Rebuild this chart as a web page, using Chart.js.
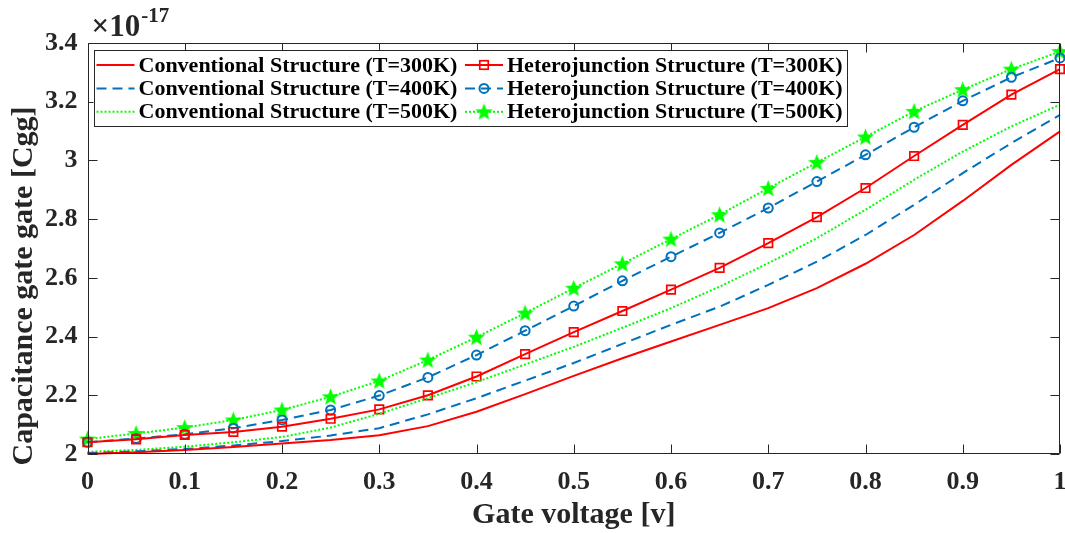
<!DOCTYPE html>
<html>
<head>
<meta charset="utf-8">
<script src="https://cdn.jsdelivr.net/npm/chart.js@4.4.1/dist/chart.umd.min.js"></script>
<style>
  html, body { margin: 0; padding: 0; background: #ffffff; overflow: hidden; }
  #wrap { width: 1065px; height: 533px; position: relative; }
  canvas { display: block; }
</style>
</head>
<body>
<div id="wrap"><canvas id="c" width="1065" height="533"></canvas></div>
<script>
// ---------------- data ----------------
const gateVoltage = [0, 0.05, 0.1, 0.15, 0.2, 0.25, 0.3, 0.35, 0.4, 0.45, 0.5, 0.55, 0.6, 0.65, 0.7, 0.75, 0.8, 0.85, 0.9, 0.95, 1];

const conv300 = [2.000, 2.006, 2.014, 2.024, 2.036, 2.048, 2.064, 2.095, 2.144, 2.204, 2.266, 2.326, 2.383, 2.440, 2.497, 2.565, 2.648, 2.746, 2.862, 2.985, 3.099];
const conv400 = [2.003, 2.009, 2.017, 2.029, 2.044, 2.063, 2.088, 2.135, 2.190, 2.250, 2.310, 2.375, 2.440, 2.502, 2.576, 2.655, 2.746, 2.849, 2.957, 3.059, 3.155];
const conv500 = [2.007, 2.014, 2.025, 2.040, 2.058, 2.090, 2.137, 2.190, 2.245, 2.305, 2.365, 2.430, 2.497, 2.570, 2.650, 2.735, 2.832, 2.934, 3.030, 3.116, 3.190];

const hetero300 = [2.040, 2.050, 2.065, 2.075, 2.093, 2.120, 2.152, 2.200, 2.264, 2.340, 2.415, 2.487, 2.560, 2.634, 2.718, 2.807, 2.906, 3.015, 3.121, 3.224, 3.311];
const hetero400 = [2.040, 2.053, 2.067, 2.088, 2.116, 2.150, 2.199, 2.261, 2.337, 2.420, 2.504, 2.590, 2.672, 2.753, 2.838, 2.928, 3.019, 3.113, 3.203, 3.283, 3.349];
const hetero500 = [2.051, 2.070, 2.090, 2.116, 2.150, 2.195, 2.249, 2.320, 2.398, 2.480, 2.565, 2.648, 2.732, 2.815, 2.905, 2.993, 3.080, 3.167, 3.241, 3.311, 3.371];

const seriesLabels = [
  'Conventional Structure (T=300K)',
  'Conventional Structure (T=400K)',
  'Conventional Structure (T=500K)',
  'Heterojunction Structure (T=300K)',
  'Heterojunction Structure (T=400K)',
  'Heterojunction Structure (T=500K)'
];

const xTickLabels = ['0', '0.1', '0.2', '0.3', '0.4', '0.5', '0.6', '0.7', '0.8', '0.9', '1'];
const yTickLabels = ['2', '2.2', '2.4', '2.6', '2.8', '3', '3.2', '3.4'];

const xAxisTitle = 'Gate voltage [v]';
const yAxisTitle = 'Capacitance gate gate [Cgg]';
const exponentBase = '\u00D710';
const exponentPower = '-17';

// ---------------- styling ----------------
const RED = '#ff0000', BLUE = '#0072bd', GREEN = '#00ff00', AXIS = '#262626';
const SERIF = '"Liberation Serif", "Times New Roman", serif';

// markers at the plot edges may overflow the plot box (as in the reference),
// so do not reserve extra layout space for them
if (Chart.LineController) {
  Chart.LineController.prototype.getMaxOverflow = function () { return 0; };
}

function makeStar(size, color) {
  const c = document.createElement('canvas');
  c.width = size; c.height = size;
  const g = c.getContext('2d');
  const cx = size / 2, cy = size / 2 + 0.6, ro = size / 2 - 0.3, ri = ro * 0.42;
  g.beginPath();
  for (let i = 0; i < 10; i++) {
    const r = i % 2 === 0 ? ro : ri;
    const a = -Math.PI / 2 + i * Math.PI / 5;
    const px = cx + r * Math.cos(a), py = cy + r * Math.sin(a);
    if (i === 0) g.moveTo(px, py); else g.lineTo(px, py);
  }
  g.closePath();
  g.fillStyle = color;
  g.fill();
  return c;
}
const starImg = makeStar(19, GREEN);

const toXY = (ys) => gateVoltage.map((x, i) => ({ x: x, y: ys[i] }));

const styleDefs = [
  { data: conv300,   color: RED,   dash: [],      point: false,  group: 0, row: 0 },
  { data: conv400,   color: BLUE,  dash: [10, 6], point: false,  group: 0, row: 1 },
  { data: conv500,   color: GREEN, dash: [2, 2],  point: false,  group: 0, row: 2 },
  { data: hetero300, color: RED,   dash: [],      point: 'rect', group: 1, row: 0 },
  { data: hetero400, color: BLUE,  dash: [10, 6], point: 'circle', group: 1, row: 1 },
  { data: hetero500, color: GREEN, dash: [2, 2],  point: starImg, group: 1, row: 2 }
];

const datasets = styleDefs.map((s, i) => ({
  label: seriesLabels[i],
  data: toXY(s.data),
  borderColor: s.color,
  backgroundColor: s.color,
  borderWidth: 2,
  borderDash: s.dash,
  tension: 0,
  clip: false,
  pointStyle: s.point || 'circle',
  pointRadius: s.point === 'rect' ? 6 : (s.point === 'circle' ? 4.5 : (s.point ? 9 : 0)),
  pointHoverRadius: s.point ? 6 : 0,
  pointBorderWidth: s.point === 'rect' ? 1.7 : 2,
  pointBorderColor: s.color,
  pointBackgroundColor: 'rgba(0,0,0,0)',
  _legendGroup: s.group,
  _legendRow: s.row
}));

// ---------------- plugins ----------------
const frameTicksPlugin = {
  id: 'frameTicks',
  afterDatasetsDraw(chart) {
    const { ctx, chartArea: a, scales } = chart;
    const L = Math.round(a.left) + 0.5, R = Math.round(a.right) - 0.5;
    const T = Math.round(a.top) + 0.5, B = Math.round(a.bottom) - 0.5;
    ctx.save();
    ctx.strokeStyle = AXIS;
    ctx.lineWidth = 1;
    ctx.setLineDash([]);
    ctx.beginPath();
    ctx.rect(L, T, R - L, B - T);
    const tl = 9;
    scales.x.ticks.forEach(t => {
      const px = Math.round(scales.x.getPixelForValue(t.value)) + 0.5;
      ctx.moveTo(px, B); ctx.lineTo(px, B - tl);
      ctx.moveTo(px, T); ctx.lineTo(px, T + tl);
    });
    scales.y.ticks.forEach(t => {
      const py = Math.round(scales.y.getPixelForValue(t.value)) + 0.5;
      ctx.moveTo(L, py); ctx.lineTo(L + tl, py);
      ctx.moveTo(R, py); ctx.lineTo(R - tl, py);
    });
    ctx.stroke();
    ctx.restore();
  }
};

const textPlugin = {
  id: 'extraText',
  afterDraw(chart) {
    const { ctx, chartArea: a } = chart;
    ctx.save();
    ctx.fillStyle = AXIS;
    // y axis title
    ctx.translate(24, 286);
    ctx.rotate(-Math.PI / 2);
    ctx.font = 'bold 30px ' + SERIF;
    ctx.textAlign = 'center';
    ctx.textBaseline = 'middle';
    ctx.fillText(yAxisTitle, 0, 0);
    ctx.restore();
    // exponent
    ctx.save();
    ctx.fillStyle = AXIS;
    ctx.textAlign = 'left';
    ctx.textBaseline = 'alphabetic';
    ctx.font = 'bold 31px ' + SERIF;
    ctx.fillText(exponentBase, a.left + 4, 36);
    const w = ctx.measureText(exponentBase).width;
    ctx.font = 'bold 21px ' + SERIF;
    ctx.fillText(exponentPower, a.left + 4 + w + 1, 22);
    ctx.restore();
  }
};

const boxLegendPlugin = {
  id: 'boxLegend',
  afterDraw(chart) {
    const { ctx, chartArea: a } = chart;
    const bx = a.left + 6, by = a.top + 7, bw = 753, bh = 76;
    const rowH = 23.4, row0 = by + 15;
    const colX = [bx + 3, bx + 371.5];
    const sampleW = 38;
    ctx.save();
    ctx.fillStyle = '#ffffff';
    ctx.fillRect(bx, by, bw, bh);
    ctx.strokeStyle = AXIS;
    ctx.lineWidth = 1;
    ctx.strokeRect(Math.round(bx) + 0.5, Math.round(by) + 0.5, bw, bh);
    chart.data.datasets.forEach(ds => {
      const x0 = colX[ds._legendGroup];
      const y = row0 + ds._legendRow * rowH;
      ctx.save();
      ctx.strokeStyle = ds.borderColor;
      ctx.lineWidth = ds.borderWidth;
      ctx.setLineDash(ds.borderDash);
      ctx.beginPath();
      ctx.moveTo(x0, y); ctx.lineTo(x0 + sampleW, y);
      ctx.stroke();
      ctx.setLineDash([]);
      const cx = x0 + sampleW / 2;
      if (ds.pointRadius > 0) {
        if (ds.pointStyle instanceof HTMLCanvasElement) {
          ctx.drawImage(ds.pointStyle, cx - ds.pointStyle.width / 2, y - ds.pointStyle.height / 2);
        } else if (ds.pointStyle === 'rect') {
          const s = ds.pointRadius * Math.SQRT1_2;
          ctx.lineWidth = ds.pointBorderWidth;
          ctx.strokeRect(cx - s, y - s, 2 * s, 2 * s);
        } else {
          ctx.lineWidth = ds.pointBorderWidth;
          ctx.beginPath();
          ctx.arc(cx, y, ds.pointRadius, 0, Math.PI * 2);
          ctx.stroke();
        }
      }
      ctx.restore();
      ctx.fillStyle = '#000000';
      ctx.font = 'bold 22px ' + SERIF;
      ctx.textAlign = 'left';
      ctx.textBaseline = 'middle';
      ctx.fillText(ds.label, x0 + sampleW + 4, y + 1);
    });
    ctx.restore();
  }
};

// ---------------- chart ----------------
new Chart(document.getElementById('c'), {
  type: 'line',
  data: { datasets: datasets },
  options: {
    responsive: false,
    animation: false,
    devicePixelRatio: 1,
    layout: { padding: { top: 43, right: 5, left: 0, bottom: 0 } },
    plugins: {
      legend: { display: false },
      tooltip: { enabled: false },
      title: { display: false }
    },
    scales: {
      x: {
        type: 'linear',
        min: 0, max: 1,
        afterFit(scale) { scale.height = 79; scale.paddingRight = 0; scale.paddingLeft = 0; },
        afterBuildTicks(scale) {
          scale.ticks = xTickLabels.map(l => ({ value: parseFloat(l) }));
        },
        ticks: {
          autoSkip: false,
          maxRotation: 0,
          padding: 13,
          color: AXIS,
          font: { family: SERIF, size: 26, weight: 'bold' },
          callback: (v, i) => xTickLabels[i]
        },
        grid: { display: false, drawTicks: false },
        border: { display: false },
        title: {
          display: true,
          text: xAxisTitle,
          color: AXIS,
          font: { family: SERIF, size: 30, weight: 'bold' },
          padding: { top: 0, bottom: 0 }
        }
      },
      y: {
        type: 'linear',
        min: 2, max: 3.4,
        afterFit(scale) { scale.width = 87.5; scale.paddingTop = 0; scale.paddingBottom = 0; },
        afterBuildTicks(scale) {
          scale.ticks = yTickLabels.map(l => ({ value: parseFloat(l) }));
        },
        ticks: {
          autoSkip: false,
          padding: 10,
          color: AXIS,
          font: { family: SERIF, size: 26, weight: 'bold' },
          callback: (v, i) => yTickLabels[i]
        },
        grid: { display: false, drawTicks: false },
        border: { display: false }
      }
    }
  },
  plugins: [frameTicksPlugin, boxLegendPlugin, textPlugin]
});
</script>
</body>
</html>
